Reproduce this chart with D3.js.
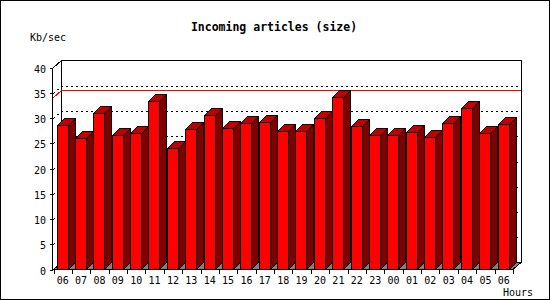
<!DOCTYPE html>
<html>
<head>
<meta charset="utf-8">
<script src="https://cdn.jsdelivr.net/npm/d3@7"></script>
<style>
  body { margin: 0; background: #fff; }
  text { font-family: "DejaVu Sans Mono", monospace; fill: #000; }
</style>
</head>
<body>
<svg id="chart" width="550" height="300"></svg>
<script>
// Chart data
const hours = ["06","07","08","09","10","11","12","13","14","15","16","17","18",
               "19","20","21","22","23","00","01","02","03","04","05","06"];
const sizes = [28.7, 26.1, 30.9, 26.7, 27.1, 33.3, 24.0, 27.9, 30.5, 28.1, 29.1, 29.3, 27.4,
               27.5, 30.0, 34.1, 28.5, 26.6, 26.6, 27.3, 26.2, 29.1, 31.9, 27.1, 28.9];
const yTicks = [0, 5, 10, 15, 20, 25, 30, 35, 40];
const gridValues = [5, 10, 15, 20, 25, 30, 35];

const svg = d3.select("#chart");
const W = 550, H = 300;
const plotLeft = 53.5, plotRight = 513, plotBase = 269.5, plotTop = 67.5;
const fdx = 8, fdy = 7;   // depth of the back wall
const bdx = 7, bdy = 7;   // depth of each bar
const faceW = 11;

svg.append("rect").attr("x", 0.5).attr("y", 0.5).attr("width", W - 1).attr("height", H - 1)
   .attr("fill", "#fff").attr("stroke", "#000");

const x = d3.scaleBand().domain(d3.range(hours.length)).range([plotLeft, plotRight]).padding(0);
const y = d3.scaleLinear().domain([0, 40]).range([plotBase, plotTop]);

const g = svg.append("g").attr("shape-rendering", "crispEdges");

// floor
g.append("polygon")
  .attr("points", [[plotLeft, plotBase], [plotRight, plotBase], [plotRight + fdx, plotBase - fdy], [plotLeft + fdx, plotBase - fdy]].join(" "))
  .attr("fill", "#808080").attr("stroke", "#000");

// back wall frame
g.append("rect")
  .attr("x", plotLeft + fdx).attr("y", plotTop - fdy)
  .attr("width", plotRight - plotLeft).attr("height", plotBase - plotTop)
  .attr("fill", "none").attr("stroke", "#000");
g.append("line").attr("x1", plotLeft).attr("y1", plotTop).attr("x2", plotLeft + fdx).attr("y2", plotTop - fdy).attr("stroke", "#000");
g.append("line").attr("x1", plotRight).attr("y1", plotBase).attr("x2", plotRight + fdx).attr("y2", plotBase - fdy).attr("stroke", "#000");

// dotted gridlines on back wall + left wall
gridValues.forEach(v => {
  const yy = Math.round(y(v)) + 0.5;
  g.append("polyline")
    .attr("points", [[plotLeft, yy], [plotLeft + fdx, yy - fdy], [plotRight + fdx, yy - fdy]].join(" "))
    .attr("fill", "none").attr("stroke", "#000").attr("stroke-dasharray", "2,3");
});

// max line
const maxV = d3.max(sizes);
const ym = Math.round(y(maxV)) + 0.5;
g.append("polyline")
  .attr("points", [[plotLeft, ym], [plotLeft + fdx, ym - fdy], [plotRight + fdx, ym - fdy]].join(" "))
  .attr("fill", "none").attr("stroke", "#ff0000");

// bars
const bars = g.selectAll(".bar").data(sizes).enter().append("g").attr("class", "bar");
bars.each(function(d, i) {
  const b = d3.select(this);
  const x0 = Math.round(x(i) + 3) + 0.5;
  const yt = Math.round(y(d)) + 0.5;
  b.append("polygon")
    .attr("points", [[x0 + faceW, yt], [x0 + faceW + bdx, yt - bdy], [x0 + faceW + bdx, plotBase - bdy], [x0 + faceW, plotBase]].join(" "))
    .attr("fill", "#800000").attr("stroke", "#000");
  b.append("polygon")
    .attr("points", [[x0, yt], [x0 + bdx, yt - bdy], [x0 + faceW + bdx, yt - bdy], [x0 + faceW, yt]].join(" "))
    .attr("fill", "#c00000").attr("stroke", "#000");
  b.append("rect")
    .attr("x", x0).attr("y", yt).attr("width", faceW).attr("height", plotBase - yt)
    .attr("fill", "#ff0000").attr("stroke", "#000");
});

// front axes
g.append("line").attr("x1", plotLeft - 1).attr("y1", plotTop).attr("x2", plotLeft - 1).attr("y2", plotBase).attr("stroke", "#000");
g.append("line").attr("x1", plotLeft - 1).attr("y1", plotBase).attr("x2", plotRight).attr("y2", plotBase).attr("stroke", "#000");

yTicks.forEach(v => {
  const yy = Math.round(y(v)) + 0.5;
  g.append("line").attr("x1", plotLeft - 4).attr("y1", yy).attr("x2", plotLeft - 1).attr("y2", yy).attr("stroke", "#000");
  svg.append("text").attr("x", 46).attr("y", yy + 4)
     .attr("text-anchor", "end").attr("font-size", "10px").text(v);
});

d3.range(hours.length + 1).forEach(i => {
  const xx = Math.round(i < hours.length ? x(i) : plotRight) + 0.5;
  g.append("line").attr("x1", xx).attr("y1", plotBase).attr("x2", xx).attr("y2", plotBase + 4).attr("stroke", "#000");
});

svg.selectAll(".xlab").data(hours).enter().append("text")
  .attr("class", "xlab")
  .attr("x", (d, i) => x(i) + x.bandwidth() / 2)
  .attr("y", 284)
  .attr("text-anchor", "middle").attr("font-size", "10px")
  .text(d => d);

svg.append("text").attr("x", 274).attr("y", 31).attr("text-anchor", "middle")
   .attr("font-size", "11.5px").attr("font-weight", "bold").text("Incoming articles (size)");
svg.append("text").attr("x", 30).attr("y", 41).attr("font-size", "10px").text("Kb/sec");
svg.append("text").attr("x", 503).attr("y", 296).attr("font-size", "10px").text("Hours");
</script>
</body>
</html>
